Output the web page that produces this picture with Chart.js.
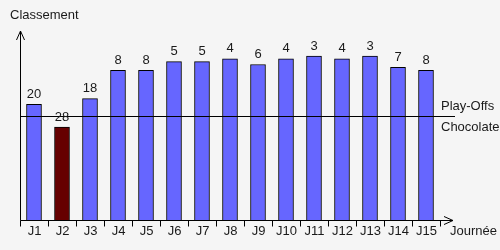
<!DOCTYPE html>
<html>
<head>
<meta charset="utf-8">
<script src="https://cdn.jsdelivr.net/npm/chart.js@4/dist/chart.umd.min.js"></script>
<style>
html,body{margin:0;padding:0;background:#f5f5f5;}
#wrap{width:500px;height:250px;}
</style>
</head>
<body>
<div id="wrap"><canvas id="c" width="500" height="250"></canvas></div>
<script>
const categories = ['J1','J2','J3','J4','J5','J6','J7','J8','J9','J10','J11','J12','J13','J14','J15'];
const ranks = [20, 28, 18, 8, 8, 5, 5, 4, 6, 4, 3, 4, 3, 7, 8];
const barColors = ['#6666ff','#660000','#6666ff','#6666ff','#6666ff','#6666ff','#6666ff','#6666ff','#6666ff','#6666ff','#6666ff','#6666ff','#6666ff','#6666ff','#6666ff'];
const thresholdRank = 24;
const thresholdLabels = ['Play-Offs', 'Chocolate'];
const yTitle = 'Classement';
const xTitle = 'Journée';

const FONT = '13px "Liberation Sans", Arial, sans-serif';
const TXT = '#1a1a1a';

const decor = {
  id: 'decor',
  afterDatasetsDraw(chart) {
    const ctx = chart.ctx;
    const ca = chart.chartArea;
    const xs = chart.scales.x, ys = chart.scales.y;
    ctx.save();
    ctx.strokeStyle = '#000';
    ctx.lineWidth = 1;
    const bx = Math.round(ca.left) + 0.5;
    const by = Math.round(ca.bottom) + 0.5;
    // threshold line
    const ty = Math.round(ys.getPixelForValue(thresholdRank)) + 0.5;
    ctx.beginPath();
    ctx.moveTo(bx, ty); ctx.lineTo(455, ty);
    ctx.stroke();
    // y axis with arrow
    ctx.beginPath();
    ctx.moveTo(bx, by); ctx.lineTo(bx, ca.top);
    ctx.moveTo(bx - 4, ca.top + 9); ctx.lineTo(bx, ca.top); ctx.lineTo(bx + 4, ca.top + 9);
    ctx.stroke();
    // x axis with arrow
    ctx.beginPath();
    ctx.moveTo(bx, by); ctx.lineTo(453, by);
    ctx.moveTo(444, by - 4); ctx.lineTo(453, by); ctx.lineTo(444, by + 4);
    ctx.stroke();
    // ticks at category boundaries
    const n = categories.length;
    const step = xs.getPixelForValue(1) - xs.getPixelForValue(0);
    ctx.beginPath();
    for (let i = 0; i <= n; i++) {
      const px = Math.round(xs.getPixelForValue(i) - step / 2) + 0.5;
      ctx.moveTo(px, by); ctx.lineTo(px, by + 6);
    }
    ctx.stroke();
    // texts
    ctx.fillStyle = TXT;
    ctx.font = FONT;
    ctx.textBaseline = 'middle';
    ctx.textAlign = 'center';
    categories.forEach((c, i) => {
      ctx.fillText(c, xs.getPixelForValue(i) + 0.5, by + 10.5);
    });
    const meta = chart.getDatasetMeta(0);
    meta.data.forEach((bar, i) => {
      ctx.fillText(String(ranks[i]), bar.x, bar.y - 10);
    });
    ctx.textAlign = 'left';
    ctx.fillText(thresholdLabels[0], 441, ty - 10);
    ctx.fillText(thresholdLabels[1], 441, ty + 11);
    ctx.fillText(xTitle, 450, by + 11);
    ctx.fillText(yTitle, 10, 15);
    ctx.restore();
  }
};

new Chart(document.getElementById('c'), {
  type: 'bar',
  data: {
    labels: categories,
    datasets: [{
      data: ranks,
      backgroundColor: barColors,
      borderColor: '#000',
      borderWidth: 1,
      barThickness: 15,
      base: 60.7
    }]
  },
  options: {
    responsive: false,
    animation: false,
    devicePixelRatio: 1,
    layout: { padding: { left: 20, right: 60, top: 31, bottom: 30 } },
    plugins: { legend: { display: false }, tooltip: { enabled: false } },
    scales: {
      x: { display: false, offset: true },
      y: { display: false, reverse: true, min: -5.8, max: 60.7 }
    }
  },
  plugins: [decor]
});
</script>
</body>
</html>
